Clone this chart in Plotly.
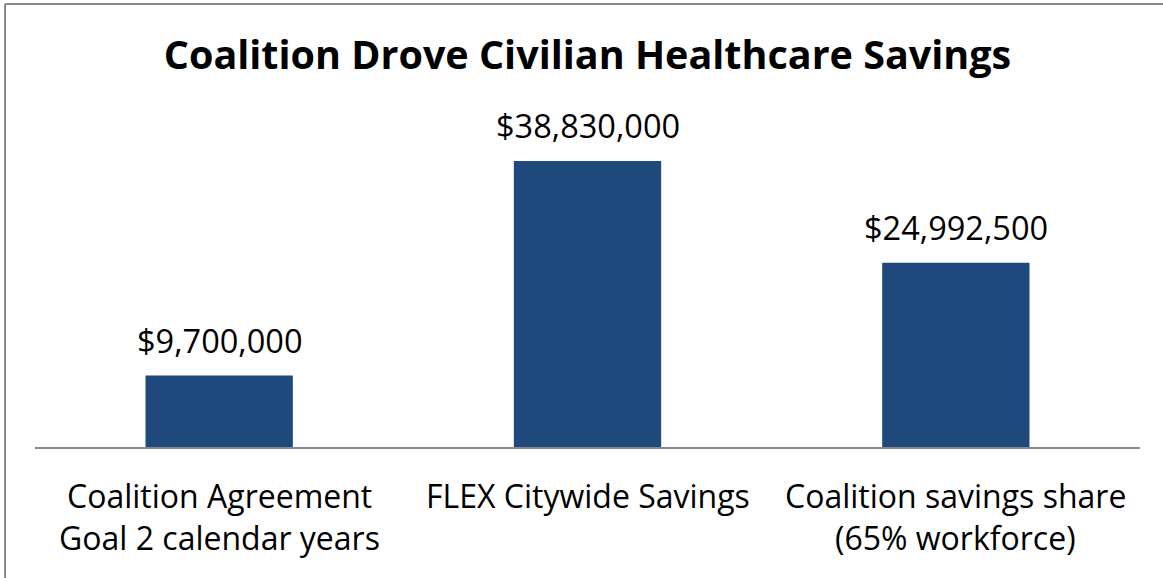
import plotly.graph_objects as go

categories = ["Coalition Agreement Goal 2 calendar years",
              "FLEX Citywide Savings",
              "Coalition savings share (65% workforce)"]
category_lines = [["Coalition Agreement", "Goal 2 calendar years"],
                  ["FLEX Citywide Savings"],
                  ["Coalition savings share", "(65% workforce)"]]
savings = [9700000, 38830000, 24992500]
title_text = "Coalition Drove Civilian Healthcare Savings"

BAR_COLOR = "#1F497D"
FONT = "'Open Sans', Lato, sans-serif"

fig = go.Figure(go.Bar(
    x=categories,
    y=savings,
    marker=dict(color=BAR_COLOR, line=dict(width=0)),
    width=0.4,
    hoverinfo="skip",
))

# value labels above each bar
for cat, val in zip(categories, savings):
    fig.add_annotation(
        x=cat, y=val, xref="x", yref="y",
        text=f"${val:,.0f}",
        showarrow=False, yanchor="bottom", yshift=11,
        font=dict(family=FONT, size=32.5, color="#000000"),
    )

# category labels, one annotation per line for wider line spacing
line_y = [-0.139, -0.262]
for cat, lines in zip(categories, category_lines):
    for i, line in enumerate(lines):
        fig.add_annotation(
            x=cat, y=line_y[i], xref="x", yref="paper",
            text=line, showarrow=False, yanchor="middle",
            font=dict(family=FONT, size=32, color="#000000"),
        )

# frame around the chart (left and top edges)
fig.add_shape(type="line", xref="paper", yref="paper",
              x0=-0.0271, x1=-0.0271, y0=-0.5, y1=1.2767,
              line=dict(color="#888888", width=2))
fig.add_shape(type="line", xref="paper", yref="paper",
              x0=-0.0271, x1=1.1, y0=1.2767, y1=1.2767,
              line=dict(color="#888888", width=2))

fig.update_layout(
    width=1163, height=578,
    margin=dict(l=35, r=23, t=100, b=131),
    paper_bgcolor="white", plot_bgcolor="white",
    title=dict(text=f"<b>{title_text}</b>", x=0.5, xref="paper",
               y=0.905, yref="container", yanchor="middle",
               font=dict(family=FONT, size=39.5, color="#000000")),
    showlegend=False,
    xaxis=dict(showline=True, linecolor="#898989", linewidth=2,
               ticks="", showgrid=False, showticklabels=False),
    yaxis=dict(range=[0, 47100000], visible=False, showgrid=False),
)

fig.write_html("out.html")
